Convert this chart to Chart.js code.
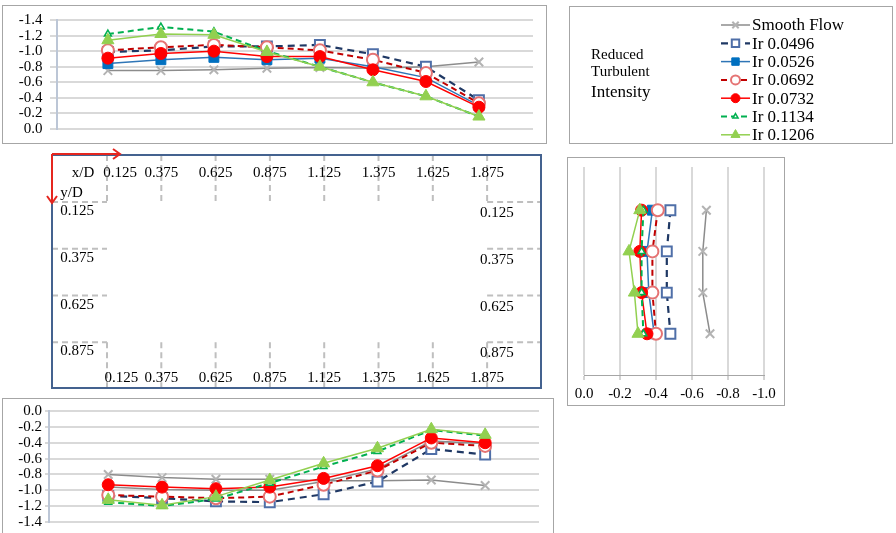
<!DOCTYPE html>
<html>
<head>
<meta charset="utf-8">
<script src="https://cdn.jsdelivr.net/npm/chart.js@4.4.0/dist/chart.umd.min.js"></script>
<style>
body { margin: 0; background: #fff; width: 896px; height: 533px; overflow: hidden; position: relative; }
.box { position: absolute; border: 1px solid #a6a6a6; }
canvas { display: block; }
</style>
</head>
<body>
<div class="box" style="left:2px;top:5px;width:543px;height:137px;"><canvas id="topChart" width="543" height="137"></canvas></div>
<div class="box" style="left:569px;top:6px;width:322px;height:136px;"><canvas id="legendChart" width="322" height="136"></canvas></div>
<canvas id="gridChart" width="510" height="250" style="position:absolute;left:40px;top:145px;"></canvas>
<div class="box" style="left:567px;top:157px;width:216px;height:247px;"><canvas id="sideChart" width="216" height="247"></canvas></div>
<div class="box" style="left:2px;top:398px;width:550px;height:140px;"><canvas id="bottomChart" width="550" height="140"></canvas></div>
<script>
// ---- data ----
const xdLabels = ['0.125', '0.375', '0.625', '0.875', '1.125', '1.375', '1.625', '1.875'];
const ydLabels = ['0.125', '0.375', '0.625', '0.875'];
const seriesNames = ['Smooth Flow', 'Ir 0.0496', 'Ir 0.0526', 'Ir 0.0692', 'Ir 0.0732', 'Ir 0.1134', 'Ir 0.1206'];
const legendTitle = ['Reduced', 'Turbulent', 'Intensity'];

// top chart (along x/D, upper row)
const topSmooth = [-0.75, -0.75, -0.76, -0.78, -0.79, -0.78, -0.80, -0.86];
const top0496 = [-0.99, -1.01, -1.06, -1.06, -1.08, -0.96, -0.80, -0.37];
const top0526 = [-0.84, -0.89, -0.92, -0.89, -0.91, -0.80, -0.66, -0.30];
const top0692 = [-1.01, -1.05, -1.08, -1.05, -1.01, -0.89, -0.72, -0.33];
const top0732 = [-0.91, -0.97, -1.00, -0.93, -0.93, -0.76, -0.61, -0.28];
const top1134 = [-1.22, -1.31, -1.25, -1.00, -0.80, -0.60, -0.42, -0.16];
const top1206 = [-1.14, -1.22, -1.21, -0.99, -0.80, -0.60, -0.42, -0.16];

// bottom chart (along x/D, lower row)
const botSmooth = [-0.80, -0.84, -0.86, -0.86, -0.88, -0.88, -0.87, -0.94];
const bot0496 = [-1.07, -1.10, -1.14, -1.15, -1.05, -0.89, -0.48, -0.55];
const bot0526 = [-0.96, -0.99, -1.00, -1.00, -0.89, -0.73, -0.38, -0.41];
const bot0692 = [-1.06, -1.08, -1.10, -1.08, -0.93, -0.75, -0.40, -0.44];
const bot0732 = [-0.93, -0.96, -0.98, -0.96, -0.85, -0.69, -0.34, -0.40];
const bot1134 = [-1.15, -1.20, -1.11, -0.91, -0.70, -0.51, -0.24, -0.31];
const bot1206 = [-1.12, -1.19, -1.08, -0.87, -0.66, -0.47, -0.23, -0.30];

// side chart (along y/D, right column)
const sideSmooth = [-0.68, -0.66, -0.66, -0.70];
const side0496 = [-0.48, -0.46, -0.46, -0.48];
const side0526 = [-0.38, -0.35, -0.36, -0.39];
const side0692 = [-0.41, -0.38, -0.38, -0.40];
const side0732 = [-0.32, -0.31, -0.32, -0.35];
const side1134 = [-0.33, -0.32, -0.32, -0.33];
const side1206 = [-0.31, -0.25, -0.28, -0.30];

// ---- styles ----
const lineColors = ['#8c8c8c', '#1f3864', '#2e75b6', '#c00000', '#ff0000', '#00b050', '#92d050'];
const lineWidths = [1.5, 2.2, 1.5, 2, 1.5, 2, 1.5];
const lineDash = [[], [7, 5], [], [6, 4], [], [6, 4], []];
const markerShape = ['crossRot', 'rect', 'rect', 'circle', 'circle', 'triangle', 'triangle'];
const markerSize = [6, 7, 7, 6, 6, 4, 7];
const markerFill = ['#bfbfbf', '#ffffff', '#0070c0', '#ffffff', '#ff0000', '#ffffff', '#92d050'];
const markerEdge = ['#b3b3b3', '#4f6fa8', '#0070c0', '#e57373', '#ff0000', '#00b050', '#92d050'];
const markerEdgeWidth = [2, 2, 1, 2, 1, 1.5, 1];
const serif = "'Liberation Serif', 'Times New Roman', serif";

Chart.defaults.font.family = serif;
Chart.defaults.color = '#000';

const xPos = xdLabels.map((l, i) => i + 1);
const yPos = ydLabels.map(Number);

function makeSet(i, points) {
    return {
        label: seriesNames[i],
        data: points,
        borderColor: lineColors[i],
        borderWidth: lineWidths[i],
        borderDash: lineDash[i],
        pointStyle: markerShape[i],
        pointRadius: markerSize[i],
        pointBackgroundColor: markerFill[i],
        pointBorderColor: markerEdge[i],
        pointBorderWidth: markerEdgeWidth[i],
        tension: 0,
        fill: false,
        order: 7 - i  // later series on top, like the original
    };
}

function alongX(values) {
    return values.map((v, k) => ({ x: xPos[k], y: v }));
}
function alongY(values) {
    return values.map((v, k) => ({ x: v, y: yPos[k] }));
}

// trailing en-space pushes the labels away from the axis without
// adding vertical padding to the chart area
function profileOptions(xMin, xMax, reverse, pad, axisWidth, tickLen, gap) {
    return {
        responsive: false,
        animation: false,
        devicePixelRatio: 1,
        layout: { padding: pad },
        plugins: { legend: { display: false }, tooltip: { enabled: false } },
        scales: {
            x: { type: 'linear', min: xMin, max: xMax, display: false },
            y: {
                type: 'linear', min: -1.4, max: 0, reverse: reverse,
                afterFit: (scale) => { scale.width = axisWidth; },
                ticks: { stepSize: 0.2, autoSkip: false, font: { size: 15 }, padding: 0,
                         callback: v => Number(v).toFixed(1) + gap },
                grid: { color: '#d9d9d9', lineWidth: 2, tickLength: tickLen },
                border: { color: '#bcc6d6', width: 2 }
            }
        }
    };
}

// top chart
const topData = [topSmooth, top0496, top0526, top0692, top0732, top1134, top1206];
new Chart(document.getElementById('topChart'), {
    type: 'line',
    data: { datasets: topData.map((v, i) => makeSet(i, alongX(v))) },
    options: profileOptions(0.04, 9.02, true, { left: 0, right: 13, top: 14, bottom: 14 }, 54, 7, '\u2002')
});

// bottom chart
const botData = [botSmooth, bot0496, bot0526, bot0692, bot0732, bot1134, bot1206];
const botSets = botData.map((v, i) => makeSet(i, alongX(v)));
botSets[2].borderColor = '#8c8c8c';  // this series shows as a plain grey line here
botSets[2].pointRadius = 0;
new Chart(document.getElementById('bottomChart'), {
    type: 'line',
    data: { datasets: botSets },
    options: profileOptions(-0.1, 9.0, false, { left: 0, right: 14, top: 12, bottom: 17 }, 46, 4, '\u2009')
});

// side chart
const sideData = [sideSmooth, side0496, side0526, side0692, side0732, side1134, side1206];
new Chart(document.getElementById('sideChart'), {
    type: 'line',
    data: { datasets: sideData.map((v, i) => makeSet(i, alongY(v))) },
    options: {
        responsive: false,
        animation: false,
        devicePixelRatio: 1,
        layout: { padding: { left: 16, right: 20, top: 0, bottom: 0 } },
        plugins: { legend: { display: false }, tooltip: { enabled: false } },
        scales: {
            x: {
                type: 'linear', min: -1.0, max: 0, reverse: true,
                afterFit: (scale) => { scale.height = 30; },
                ticks: { stepSize: 0.2, autoSkip: false, maxRotation: 0, font: { size: 15 }, padding: 5, callback: v => Number(v).toFixed(1) },
                grid: { color: '#d9d9d9', lineWidth: 2, tickLength: 5, tickColor: '#a6a6a6', tickWidth: 1 },
                border: { color: '#a6a6a6', width: 1 }
            },
            y: { type: 'linear', min: -0.137, max: 1.125, reverse: true, display: false }
        }
    }
});

// legend box
const legendPlugin = {
    id: 'sideLegend',
    afterDraw(chart) {
        const ctx = chart.ctx;
        ctx.save();
        ctx.fillStyle = '#000';
        ctx.textBaseline = 'middle';
        ctx.textAlign = 'left';
        ctx.font = '15px ' + serif;
        ctx.fillText(legendTitle[0], 21, 48);
        ctx.fillText(legendTitle[1], 21, 65);
        ctx.font = '17px ' + serif;
        ctx.fillText(legendTitle[2], 21, 86);
        chart.data.datasets.forEach((ds, i) => {
            const y = 18 + 18.3 * i;
            ctx.strokeStyle = ds.borderColor;
            ctx.lineWidth = ds.borderWidth;
            ctx.setLineDash(ds.borderDash);
            ctx.beginPath();
            ctx.moveTo(151, y);
            ctx.lineTo(180, y);
            ctx.stroke();
            ctx.setLineDash([]);
            ctx.fillStyle = ds.pointBackgroundColor;
            ctx.strokeStyle = ds.pointBorderColor;
            ctx.lineWidth = ds.pointBorderWidth;
            Chart.helpers.drawPoint(ctx, {
                pointStyle: ds.pointStyle,
                radius: ds.pointRadius * 0.75,
                rotation: 0,
                borderWidth: ds.pointBorderWidth
            }, 165.5, y);
            ctx.fillStyle = '#000';
            ctx.font = '17px ' + serif;
            ctx.fillText(ds.label, 182, y + 1);
        });
        ctx.restore();
    }
};
new Chart(document.getElementById('legendChart'), {
    type: 'line',
    data: { datasets: seriesNames.map((n, i) => makeSet(i, [])) },
    options: {
        responsive: false, animation: false, devicePixelRatio: 1,
        plugins: { legend: { display: false }, tooltip: { enabled: false } },
        scales: { x: { type: 'linear', display: false }, y: { display: false } }
    },
    plugins: [legendPlugin]
});

// measurement grid diagram (x/D along top and bottom, y/D along the sides)
const gridPlugin = {
    id: 'measureGrid',
    afterDraw(chart) {
        const ctx = chart.ctx;
        const sx = chart.scales.x, sy = chart.scales.y;
        const boxL = 12, boxT = 10, boxR = 501, boxB = 243;
        ctx.save();
        // dashed guide lines
        ctx.strokeStyle = '#bfbfbf';
        ctx.lineWidth = 2;
        ctx.setLineDash([6, 4]);
        const rowTop = sy.getPixelForValue(0), rowBot = sy.getPixelForValue(ydLabels.length - 1);
        xPos.forEach(v => {
            const px = sx.getPixelForValue(v);
            ctx.beginPath();
            ctx.moveTo(px, boxT); ctx.lineTo(px, rowTop);
            ctx.moveTo(px, rowBot); ctx.lineTo(px, boxB);
            ctx.stroke();
        });
        const colL = sx.getPixelForValue(xPos[0]), colR = sx.getPixelForValue(xPos[xPos.length - 1]);
        ydLabels.forEach((l, j) => {
            const py = sy.getPixelForValue(j);
            ctx.beginPath();
            ctx.moveTo(boxL, py); ctx.lineTo(colL, py);
            ctx.moveTo(colR, py); ctx.lineTo(boxR, py);
            ctx.stroke();
        });
        ctx.setLineDash([]);
        // frame
        ctx.strokeStyle = '#44628f';
        ctx.lineWidth = 2;
        ctx.strokeRect(boxL, boxT, boxR - boxL, boxB - boxT);
        // labels
        ctx.fillStyle = '#000';
        ctx.font = '15px ' + serif;
        ctx.textBaseline = 'middle';
        ctx.textAlign = 'center';
        xdLabels.forEach((l, i) => {
            const shift = i === 0 ? 0.24 : 0;
            ctx.fillText(l, sx.getPixelForValue(xPos[i] + shift), sy.getPixelForValue(-0.62));
            ctx.fillText(l, sx.getPixelForValue(xPos[i] + shift * 1.1), sy.getPixelForValue(3.77));
        });
        ydLabels.forEach((l, j) => {
            ctx.fillText(l, sx.getPixelForValue(0.45), sy.getPixelForValue(j + 0.2));
            ctx.fillText(l, sx.getPixelForValue(8.18), sy.getPixelForValue(j + 0.24));
        });
        ctx.fillText('x/D', sx.getPixelForValue(0.56), sy.getPixelForValue(-0.62));
        ctx.textAlign = 'left';
        ctx.fillText('y/D', sx.getPixelForValue(0.14), sy.getPixelForValue(-0.2));
        // red direction arrows
        ctx.strokeStyle = '#e5261f';
        ctx.lineWidth = 2;
        ctx.beginPath();
        ctx.moveTo(boxL, 9); ctx.lineTo(80, 9);
        ctx.moveTo(73, 4); ctx.lineTo(80, 9); ctx.lineTo(73, 14);
        ctx.moveTo(boxL, 9); ctx.lineTo(boxL, 58);
        ctx.moveTo(7, 51); ctx.lineTo(boxL, 58); ctx.lineTo(17, 51);
        ctx.stroke();
        ctx.restore();
    }
};
new Chart(document.getElementById('gridChart'), {
    type: 'line',
    data: { datasets: [] },
    options: {
        responsive: false, animation: false, devicePixelRatio: 1,
        layout: { padding: 0 },
        plugins: { legend: { display: false }, tooltip: { enabled: false } },
        scales: {
            x: { type: 'linear', min: -0.234, max: 9.158, display: false },
            y: { type: 'linear', min: -1.22, max: 4.13, reverse: true, display: false }
        }
    },
    plugins: [gridPlugin]
});
</script>
</body>
</html>
